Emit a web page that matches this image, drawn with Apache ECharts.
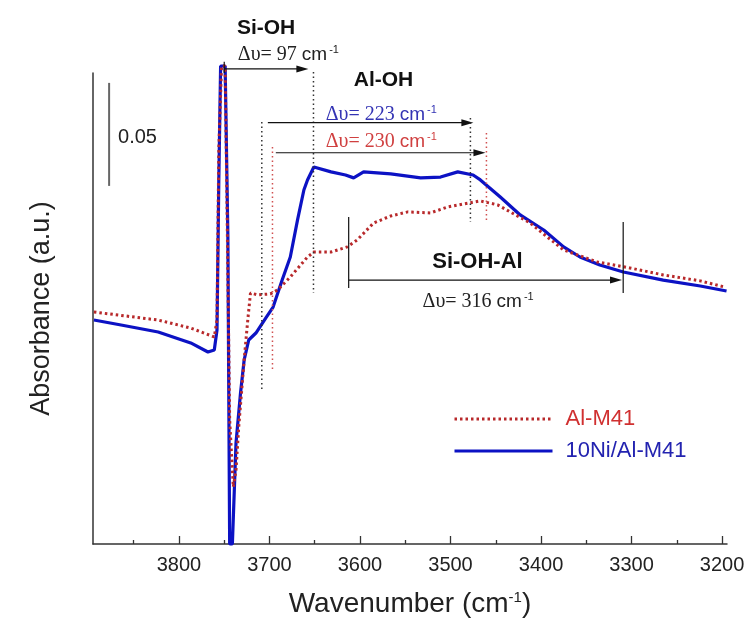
<!DOCTYPE html>
<html>
<head>
<meta charset="utf-8">
<script src="https://cdn.jsdelivr.net/npm/echarts@6/dist/echarts.min.js"></script>
<style>html,body{margin:0;padding:0;background:#fff}#c{width:752px;height:626px}</style>
</head>
<body>
<div id="c"></div>
<script>
// ---- data (wavenumber cm-1, absorbance a.u.) ----
const blueWn  = [3894, 3864, 3823, 3787, 3768, 3761, 3758, 3756, 3754, 3749, 3746, 3744, 3741, 3737, 3732, 3728, 3723, 3715, 3704, 3696, 3686, 3677, 3669, 3662, 3658, 3651, 3632, 3616, 3607, 3596, 3566, 3533, 3511, 3492, 3475, 3467, 3445, 3423, 3397, 3375, 3357, 3335, 3309, 3265, 3224, 3195];
const blueAbs = [0.1087, 0.1063, 0.1029, 0.0976, 0.0932, 0.0942, 0.1039, 0.1767, 0.232, 0.232, 0.150, 0.000, 0.000, 0.049, 0.0733, 0.0893, 0.099, 0.1024, 0.1097, 0.115, 0.1281, 0.1393, 0.1573, 0.1718, 0.1767, 0.183, 0.1806, 0.1791, 0.1777, 0.1806, 0.1796, 0.1777, 0.1781, 0.1806, 0.1791, 0.1767, 0.1684, 0.1597, 0.1524, 0.1442, 0.1393, 0.1354, 0.132, 0.1281, 0.1252, 0.1228];
const redWn   = [3894, 3823, 3787, 3761, 3758, 3756, 3753, 3749, 3747, 3744, 3740, 3737, 3734, 3728, 3724, 3721, 3713, 3699, 3691, 3677, 3658, 3651, 3632, 3614, 3603, 3585, 3566, 3547, 3522, 3503, 3486, 3467, 3448, 3428, 3412, 3393, 3375, 3338, 3302, 3265, 3224, 3197];
const redAbs  = [0.1126, 0.1087, 0.1048, 0.1005, 0.1087, 0.1913, 0.232, 0.232, 0.167, 0.0602, 0.0277, 0.0359, 0.0568, 0.0893, 0.1087, 0.1218, 0.1209, 0.1214, 0.1233, 0.1296, 0.1393, 0.1417, 0.1417, 0.1442, 0.1476, 0.1558, 0.1592, 0.1612, 0.1607, 0.1636, 0.165, 0.1665, 0.1646, 0.1597, 0.1558, 0.149, 0.1427, 0.1369, 0.134, 0.1306, 0.1277, 0.1247];
const majorTicks = [3800, 3700, 3600, 3500, 3400, 3300, 3200];
const minorTicks = [3850, 3750, 3650, 3550, 3450, 3350, 3250];
const seriesNames = ['Al-M41', '10Ni/Al-M41'];

const BLUE = '#0c12c4', RED = '#b8292b';
const SANS = 'Liberation Sans, Arial, sans-serif';
const SERIF = 'Liberation Serif, Times New Roman, serif';

const chart = echarts.init(document.getElementById('c'), null, {renderer: 'canvas'});
const zip = (a, b) => a.map((x, i) => [x, b[i]]);
const xBase = {type: 'value', inverse: true, min: 3194.5, max: 3895, gridIndex: 0, position: 'bottom', splitLine: {show: false}};

chart.setOption({
  animation: false,
  backgroundColor: '#fff',
  grid: {left: 93, right: 25, top: 73, bottom: 82},
  xAxis: [
    Object.assign({}, xBase, {
      axisLine: {lineStyle: {color: '#333', width: 1.5}},
      axisTick: {inside: true, length: 8, customValues: majorTicks, lineStyle: {color: '#333', width: 1.3}},
      axisLabel: {customValues: majorTicks, fontSize: 20, color: '#222', margin: 11, fontFamily: SANS,
                  formatter: v => String(v)},
      name: '{a|Wavenumber (cm}{s|-1}{a|)}',
      nameLocation: 'middle', nameGap: 46,
      nameTextStyle: {rich: {
        a: {fontSize: 28, fontFamily: SANS, color: '#222'},
        s: {fontSize: 15, fontFamily: SANS, color: '#222', verticalAlign: 'top', padding: [0, 0, 14, 0]}
      }}
    }),
    Object.assign({}, xBase, {
      axisLine: {show: false},
      axisTick: {inside: true, length: 4, customValues: minorTicks, lineStyle: {color: '#333', width: 1.3}},
      axisLabel: {show: false}
    })
  ],
  yAxis: {
    type: 'value', min: 0, max: 0.2286,
    axisLine: {show: true, lineStyle: {color: '#333', width: 1.5}},
    axisTick: {show: false}, axisLabel: {show: false}, splitLine: {show: false},
    name: 'Absorbance (a.u.)', nameLocation: 'middle', nameGap: 38, nameRotate: 90,
    nameTextStyle: {fontSize: 27, fontFamily: SANS, color: '#222'}
  },
  legend: {
    orient: 'vertical', left: 448, top: 403, itemWidth: 98, itemHeight: 14, itemGap: 10,
    itemStyle: {opacity: 0},
    lineStyle: {width: 3},
    data: [
      {name: seriesNames[0], textStyle: {color: '#d03030'}},
      {name: seriesNames[1], textStyle: {color: '#2323b0'}}
    ],
    textStyle: {fontSize: 22, fontFamily: SANS, padding: [0, 0, 0, 8]}
  },
  series: [
    {name: seriesNames[0], type: 'line', symbol: 'none', clip: false, z: 3,
     data: zip(redWn, redAbs),
     lineStyle: {color: RED, width: 3, type: [2.5, 3]}, itemStyle: {color: RED}},
    {name: seriesNames[1], type: 'line', symbol: 'none', clip: false, z: 2,
     data: zip(blueWn, blueAbs),
     lineStyle: {color: BLUE, width: 3.2}, itemStyle: {color: BLUE}}
  ]
});

// ---- annotations, positioned in data coordinates ----
const P = (w, v) => chart.convertToPixel({xAxisIndex: 0, yAxisIndex: 0}, [w, v]);
const g = [];
function seg(w1, v1, w2, v2, stroke, dash, lw) {
  const a = P(w1, v1), b = P(w2, v2);
  g.push({type: 'line', silent: true, z: 10, shape: {x1: a[0], y1: a[1], x2: b[0], y2: b[1]},
          style: {stroke: stroke, lineWidth: lw || 1.2, lineDash: dash || null}});
}
function arrow(w1, w2, v) {
  const a = P(w1, v), b = P(w2, v);
  g.push({type: 'line', silent: true, z: 10, shape: {x1: a[0], y1: a[1], x2: b[0] - 8, y2: b[1]},
          style: {stroke: '#111', lineWidth: 1.2}});
  g.push({type: 'polygon', silent: true, z: 10,
          shape: {points: [[b[0], b[1]], [b[0] - 12, b[1] - 3.5], [b[0] - 12, b[1] + 3.5]]},
          style: {fill: '#111'}});
}
function txt(w, v, text, opts) {
  const p = P(w, v);
  g.push(Object.assign({type: 'text', silent: true, z: 11, x: p[0], y: p[1],
    style: Object.assign({text: text, verticalAlign: 'middle', align: 'left'}, opts)}));
}
function delta(w, v, num, color) {
  txt(w, v, '{d|\u0394\u03c5= ' + num + ' }{c|cm}{s|-1}', {
    rich: {
      d: {fontFamily: SERIF, fontSize: 20, fill: color},
      c: {fontFamily: SANS, fontSize: 19, fill: color},
      s: {fontFamily: SANS, fontSize: 11, fill: color, verticalAlign: 'top', padding: [0, 0, 10, 2]}
    }
  });
}
const DOT_BLACK = '#333', DOT_RED = '#d05050';
const BOLD = 'bold 21px ' + SANS;

// scale bar 0.05
seg(3877.2, 0.1738, 3877.2, 0.2238, '#666', null, 2);
txt(3867.3, 0.1971, '0.05', {font: '20px ' + SANS, fill: '#222'});

// Si-OH
txt(3736, 0.2505, 'Si-OH', {font: BOLD, fill: '#111'});
delta(3735, 0.2374, '97', '#222');
seg(3750, 0.2286, 3750, 0.2340, '#111', null, 1.2);
arrow(3750, 3657, 0.2306);
seg(3651.4, 0.2291, 3651.4, 0.1218, DOT_BLACK, [1.5, 3], 1.5);

// Al-OH
txt(3574, 0.2252, 'Al-OH', {font: BOLD, fill: '#111', align: 'center'});
delta(3637.9, 0.2082, '223', '#3434b4');
delta(3637.9, 0.1951, '230', '#d04040');
arrow(3701.8, 3474.7, 0.2045);
arrow(3693, 3461.4, 0.1899);
seg(3708.5, 0.2048, 3708.5, 0.0738, DOT_BLACK, [1.5, 3], 1.5);
seg(3478, 0.2068, 3478, 0.1563, DOT_BLACK, [1.5, 3], 1.5);
seg(3696.7, 0.1927, 3696.7, 0.0845, DOT_RED, [1.5, 3], 1.5);
seg(3460.3, 0.1995, 3460.3, 0.1558, DOT_RED, [1.5, 3], 1.5);

// Si-OH-Al
seg(3612.5, 0.1587, 3612.5, 0.1243, '#111', null, 1.2);
seg(3309.2, 0.1563, 3309.2, 0.1218, '#111', null, 1.2);
arrow(3612.5, 3310.5, 0.1281);
txt(3470.2, 0.1369, 'Si-OH-Al', {font: 'bold 22px ' + SANS, fill: '#111', align: 'center'});
delta(3530.9, 0.1175, '316', '#222');

chart.setOption({graphic: {elements: g}});
</script>
</body>
</html>
